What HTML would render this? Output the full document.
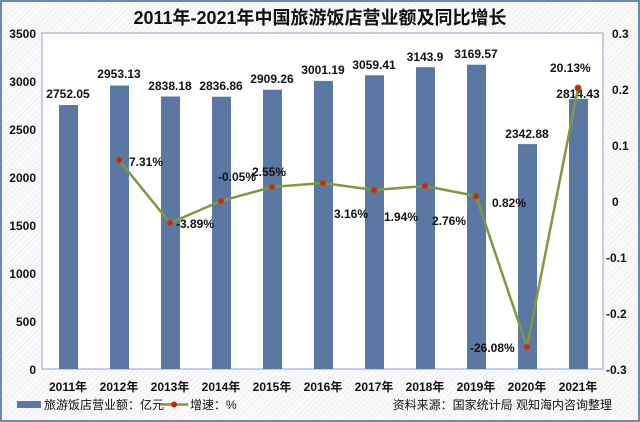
<!DOCTYPE html>
<html><head><meta charset="utf-8"><style>
body{margin:0;width:640px;height:422px;overflow:hidden;background:#fff}
svg{display:block}
text{font-family:"Liberation Sans","Noto Sans CJK SC",sans-serif}
</style></head><body>
<svg width="640" height="422" viewBox="0 0 640 422" xmlns="http://www.w3.org/2000/svg">
<defs><pattern id="h" width="4" height="4" patternUnits="userSpaceOnUse" patternTransform="rotate(45)"><rect width="4" height="4" fill="#fafafa"/><line x1="0" y1="0" x2="0" y2="4" stroke="#e6e6e6" stroke-width="1"/></pattern></defs>
<rect x="1" y="1" width="638" height="420" fill="url(#h)" stroke="#7089b0" stroke-width="2"/>
<rect x="42" y="33" width="561" height="336" fill="#fff" stroke="#8fa2c4" stroke-width="1"/>
<text x="320" y="24" text-anchor="middle" font-size="18" font-weight="bold" fill="#111">2011年-2021年中国旅游饭店营业额及同比增长</text>
<g font-size="12" font-weight="bold" fill="#111" text-anchor="end">
<text x="36" y="38">3500</text><text x="36" y="86">3000</text><text x="36" y="134">2500</text><text x="36" y="182">2000</text><text x="36" y="230">1500</text><text x="36" y="278">1000</text><text x="36" y="326">500</text><text x="36" y="374">0</text>
</g>
<g font-size="12" font-weight="bold" fill="#111">
<text x="612" y="38">0.3</text><text x="612" y="94">0.2</text><text x="612" y="150">0.1</text><text x="612" y="206">0</text><text x="606" y="262">-0.1</text><text x="606" y="318">-0.2</text><text x="606" y="374">-0.3</text>
</g>
<g fill="#5b77a3">
<rect x="59" y="105" width="19" height="264"/>
<rect x="110" y="85.5" width="19" height="283.5"/>
<rect x="161" y="96.5" width="19" height="272.5"/>
<rect x="212" y="96.7" width="19" height="272.3"/>
<rect x="263" y="89.7" width="19" height="279.3"/>
<rect x="314" y="80.9" width="19" height="288.1"/>
<rect x="365" y="75.3" width="19" height="293.7"/>
<rect x="416" y="67.2" width="19" height="301.8"/>
<rect x="467" y="64.7" width="19" height="304.3"/>
<rect x="518" y="144.1" width="19" height="224.9"/>
<rect x="569" y="98.8" width="19" height="270.2"/>
</g>
<g font-size="12" font-weight="bold" fill="#111" text-anchor="middle">
<text x="68" y="98">2752.05</text><text x="119" y="78">2953.13</text><text x="170" y="90">2838.18</text><text x="221" y="90">2836.86</text><text x="272" y="83">2909.26</text><text x="323" y="74">3001.19</text><text x="374" y="69">3059.41</text><text x="425" y="61">3143.9</text><text x="476" y="58">3169.57</text><text x="527" y="138">2342.88</text><text x="578" y="98">2814.43</text>
</g>
<polyline fill="none" stroke="#7e9a3e" stroke-width="2.5" points="119,160 170,223 221,201 272,187 323,183 374,190 425,186 476,196 527,347 578,88"/>
<g fill="#d0201a" stroke="#8a6a2a" stroke-width="1">
<circle cx="119" cy="160" r="3"/><circle cx="170" cy="223" r="3"/><circle cx="221" cy="201" r="3"/><circle cx="272" cy="187" r="3"/><circle cx="323" cy="183" r="3"/><circle cx="374" cy="190" r="3"/><circle cx="425" cy="186" r="3"/><circle cx="476" cy="196" r="3"/><circle cx="527" cy="347" r="3"/><circle cx="578" cy="88" r="3"/>
</g>
<g font-size="12" font-weight="bold" fill="#111">
<text x="129" y="166">7.31%</text><text x="176" y="228">-3.89%</text><text x="218" y="181">-0.05%</text><text x="252" y="176">2.55%</text><text x="334" y="218">3.16%</text><text x="384" y="221">1.94%</text><text x="432" y="225">2.76%</text><text x="492" y="207">0.82%</text><text x="470" y="352">-26.08%</text><text x="550" y="72">20.13%</text>
</g>
<g font-size="12" font-weight="bold" fill="#111" text-anchor="middle">
<text x="68" y="391">2011年</text><text x="119" y="391">2012年</text><text x="170" y="391">2013年</text><text x="221" y="391">2014年</text><text x="272" y="391">2015年</text><text x="323" y="391">2016年</text><text x="374" y="391">2017年</text><text x="425" y="391">2018年</text><text x="476" y="391">2019年</text><text x="527" y="391">2020年</text><text x="578" y="391">2021年</text>
</g>
<rect x="17" y="401" width="24" height="7" fill="#5b77a3"/>
<text x="44" y="409" font-size="12" fill="#111">旅游饭店营业额：亿元</text>
<line x1="160" y1="404.5" x2="188" y2="404.5" stroke="#7e9a3e" stroke-width="2.5"/>
<circle cx="174" cy="404.5" r="3" fill="#d0201a"/>
<text x="190" y="409" font-size="12" fill="#111">增速：%</text>
<text x="612" y="409" font-size="12" fill="#111" text-anchor="end">资料来源：国家统计局 观知海内咨询整理</text>
</svg>
</body></html>
